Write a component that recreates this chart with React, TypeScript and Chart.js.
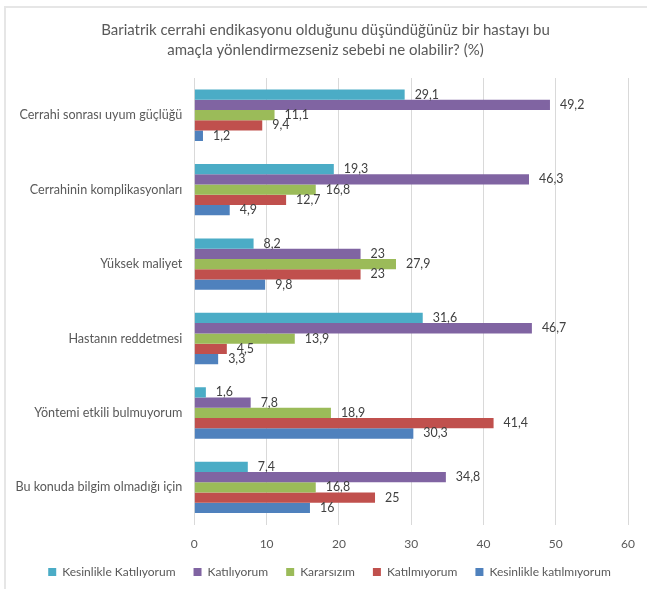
import React, { useEffect, useRef } from "react";
import { Chart, registerables } from "chart.js";

Chart.register(...registerables);

const categories = [
  "Cerrahi sonrası uyum güçlüğü",
  "Cerrahinin komplikasyonları",
  "Yüksek maliyet",
  "Hastanın reddetmesi",
  "Yöntemi etkili bulmuyorum",
  "Bu konuda bilgim olmadığı için",
];

const seriesNames = [
  "Kesinlikle Katılıyorum",
  "Katılıyorum",
  "Kararsızım",
  "Katılmıyorum",
  "Kesinlikle katılmıyorum",
];

const kesinlikleKatiliyorum = [29.1, 19.3, 8.2, 31.6, 1.6, 7.4];
const katiliyorum = [49.2, 46.3, 23, 46.7, 7.8, 34.8];
const kararsizim = [11.1, 16.8, 27.9, 13.9, 18.9, 16.8];
const katilmiyorum = [9.4, 12.7, 23, 4.5, 41.4, 25];
const kesinlikleKatilmiyorum = [1.2, 4.9, 9.8, 3.3, 30.3, 16];

const seriesColors = ["#4BACC6", "#8064A2", "#9BBB59", "#C0504D", "#4F81BD"];

const xTicks = [0, 10, 20, 30, 40, 50, 60];

const titleLines = [
  "Bariatrik cerrahi endikasyonu olduğunu düşündüğünüz bir hastayı bu",
  "amaçla yönlendirmezseniz sebebi ne olabilir? (%)",
];

const FONT = "Lato, 'Open Sans', sans-serif";

const valueLabels = {
  id: "valueLabels",
  afterLayout(chart: any) {
    if (chart.legend) chart.legend.left += 16;
    if (chart.titleBlock) chart.titleBlock.left += 8;
  },
  afterDatasetsDraw(chart: any) {
    const ctx = chart.ctx;
    ctx.save();
    ctx.font = `12.4px ${FONT}`;
    ctx.fillStyle = "#404040";
    ctx.textAlign = "left";
    ctx.textBaseline = "middle";
    chart.data.datasets.forEach((ds: any, di: number) => {
      const meta = chart.getDatasetMeta(di);
      meta.data.forEach((el: any, i: number) => {
        const v = ds.data[i];
        ctx.fillText(String(v).replace(".", ","), el.x + 10, el.y);
      });
    });
    ctx.restore();
  },
};

export default function App() {
  const ref = useRef<HTMLCanvasElement | null>(null);
  useEffect(() => {
    if (!ref.current) return;
    const allSeries = [
      kesinlikleKatiliyorum,
      katiliyorum,
      kararsizim,
      katilmiyorum,
      kesinlikleKatilmiyorum,
    ];
    const chart = new Chart(ref.current, {
      type: "bar",
      data: {
        labels: categories,
        datasets: allSeries.map((d, i) => ({
          label: seriesNames[i],
          data: d,
          backgroundColor: seriesColors[i],
          borderWidth: 0,
          categoryPercentage: 0.69,
          barPercentage: 1,
        })),
      },
      options: {
        indexAxis: "y",
        responsive: false,
        animation: false,
        devicePixelRatio: 1,
        layout: { padding: { left: 14, right: 18, top: 0, bottom: 1 } },
        plugins: {
          title: {
            display: true,
            text: titleLines,
            color: "#595959",
            font: { family: FONT, size: 15, weight: "normal", lineHeight: 1.3333 },
            padding: { top: 20, bottom: 18 },
          },
          legend: {
            position: "bottom",
            labels: {
              color: "#595959",
              font: { family: FONT, size: 12 },
              boxWidth: 8,
              boxHeight: 8,
              padding: 18,
            },
          },
          tooltip: { enabled: false },
        },
        scales: {
          x: {
            min: 0,
            max: 60,
            afterBuildTicks(scale: any) {
              scale.ticks = xTicks.map((v) => ({ value: v }));
            },
            afterFit(scale: any) {
              scale.height = 23.4;
            },
            grid: { color: "#d9d9d9", lineWidth: 1, drawTicks: false },
            border: { display: false },
            ticks: {
              color: "#595959",
              font: { family: FONT, size: 12 },
              padding: 12,
            },
          },
          y: {
            afterFit(scale: any) {
              scale.width = 180.3;
            },
            grid: { display: false, drawTicks: false },
            border: { display: false },
            ticks: {
              color: "#595959",
              font: { family: FONT, size: 12.6 },
              padding: 12,
            },
          },
        },
      },
      plugins: [valueLabels],
    } as any);
    return () => chart.destroy();
  }, []);

  return (
    <div
      style={{
        position: "fixed",
        left: 0,
        top: 0,
        width: 647,
        height: 589,
        background: "#fff",
        overflow: "hidden",
      }}
    >
      <div
        style={{
          position: "absolute",
          left: 4,
          top: 6,
          width: 700,
          height: 700,
          borderLeft: "2px solid #e6e6e6",
          borderTop: "2px solid #e6e6e6",
        }}
      />
      <canvas
        ref={ref}
        width={647}
        height={589}
        style={{ position: "absolute", left: 0, top: 0 }}
      />
    </div>
  );
}
